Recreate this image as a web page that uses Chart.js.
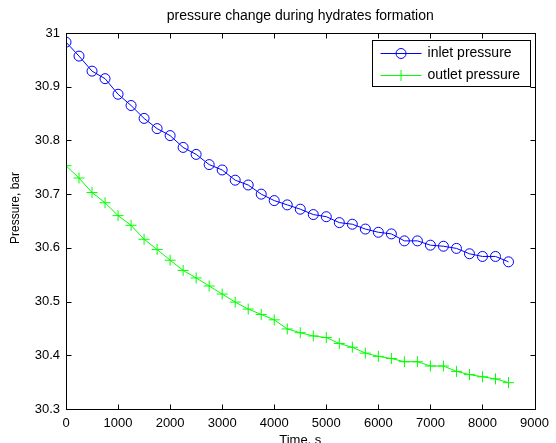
<!DOCTYPE html>
<html>
<head>
<meta charset="utf-8">
<script src="https://cdn.jsdelivr.net/npm/chart.js@4/dist/chart.umd.min.js"></script>
<style>
  html, body { margin: 0; padding: 0; background: #fff; }
  #myChart { display: block; }
</style>
</head>
<body>
<canvas id="myChart" width="556" height="443"></canvas>
<script>
// time axis (s) and readings (bar)
const times = [0, 250, 500, 750, 1000, 1250, 1500, 1750, 2000, 2250, 2500, 2750, 3000, 3250, 3500, 3750,
    4000, 4250, 4500, 4750, 5000, 5250, 5500, 5750, 6000, 6250, 6500, 6750, 7000, 7250, 7500, 7750,
    8000, 8250, 8500];
const inletPressure = [30.983, 30.957, 30.929, 30.915, 30.886, 30.865, 30.841, 30.822, 30.809, 30.787,
    30.774, 30.755, 30.745, 30.726, 30.717, 30.700, 30.688, 30.680, 30.672, 30.662, 30.658, 30.647,
    30.644, 30.635, 30.629, 30.626, 30.613, 30.613, 30.605, 30.603, 30.599, 30.589, 30.584, 30.584, 30.574];
const outletPressure = [30.753, 30.730, 30.703, 30.684, 30.660, 30.642, 30.616, 30.597, 30.577, 30.558,
    30.544, 30.529, 30.514, 30.499, 30.486, 30.476, 30.466, 30.449, 30.442, 30.436, 30.433, 30.422,
    30.415, 30.404, 30.398, 30.394, 30.388, 30.388, 30.380, 30.380, 30.370, 30.364, 30.360, 30.356, 30.349];

const seriesNames = ['inlet pressure', 'outlet pressure'];
const xTickRange = [0, 9000, 1000];
const yTickRange = [30.3, 31, 0.1];

const FONT = '"Liberation Sans", Arial, Helvetica, sans-serif';

// box, inward ticks, axis labels and legend like a matlab figure
const matlabFrame = {
    id: 'matlabFrame',
    beforeDraw(chart) {
        const ctx = chart.ctx;
        ctx.save();
        ctx.fillStyle = '#fff';
        ctx.fillRect(0, 0, chart.width, chart.height);
        ctx.restore();
    },
    afterDraw(chart) {
        const { ctx, chartArea: a, scales: { x, y } } = chart;
        const L = Math.round(a.left) + 0.5, R = Math.round(a.right) + 0.5;
        const T = Math.round(a.top) + 0.5, B = Math.round(a.bottom) + 0.5;
        const tl = 5;
        ctx.save();
        ctx.strokeStyle = '#000';
        ctx.lineWidth = 1;
        ctx.strokeRect(L, T, R - L, B - T);
        ctx.beginPath();
        x.ticks.forEach(t => {
            const px = Math.round(x.getPixelForValue(t.value)) + 0.5;
            ctx.moveTo(px, B); ctx.lineTo(px, B - tl);
            ctx.moveTo(px, T); ctx.lineTo(px, T + tl);
        });
        y.ticks.forEach(t => {
            const py = Math.round(y.getPixelForValue(t.value)) + 0.5;
            ctx.moveTo(L, py); ctx.lineTo(L + tl, py);
            ctx.moveTo(R, py); ctx.lineTo(R - tl, py);
        });
        ctx.stroke();

        // axis titles
        ctx.fillStyle = '#000';
        ctx.font = '13px ' + FONT;
        ctx.textAlign = 'center';
        ctx.textBaseline = 'top';
        ctx.fillText('Time, s', (a.left + a.right) / 2, 434);
        ctx.save();
        ctx.translate(16, 208);
        ctx.rotate(-Math.PI / 2);
        ctx.font = '12px ' + FONT;
        ctx.textBaseline = 'middle';
        ctx.fillText('Pressure, bar', 0, 0);
        ctx.restore();

        // legend
        const bx = a.right - 163, by = a.top + 7, bw = 158, bh = 46;
        ctx.fillStyle = '#fff';
        ctx.fillRect(bx, by, bw, bh);
        ctx.strokeRect(Math.round(bx) + 0.5, Math.round(by) + 0.5, bw, bh);
        chart.data.datasets.forEach((ds, i) => {
            const ly = Math.round(by + 13 + i * 21.5) + 0.5;
            const x0 = bx + 9, x1 = bx + 50, mx = (x0 + x1) / 2;
            ctx.strokeStyle = ds.borderColor;
            ctx.lineWidth = 1;
            ctx.beginPath();
            ctx.moveTo(x0, ly); ctx.lineTo(x1, ly);
            ctx.stroke();
            ctx.beginPath();
            if (ds.pointStyle === 'circle') {
                ctx.arc(mx, ly, ds.pointRadius, 0, Math.PI * 2);
            } else {
                ctx.moveTo(mx, ly - ds.pointRadius); ctx.lineTo(mx, ly + ds.pointRadius);
                ctx.moveTo(mx - ds.pointRadius, ly); ctx.lineTo(mx + ds.pointRadius, ly);
            }
            ctx.stroke();
            ctx.fillStyle = '#000';
            ctx.font = '14px ' + FONT;
            ctx.textAlign = 'left';
            ctx.textBaseline = 'middle';
            ctx.fillText(ds.label, bx + 56, ly);
        });
        ctx.restore();
    }
};

function drawChart() {
    const ctx = document.getElementById('myChart').getContext('2d');

    const inletData = times.map((t, i) => ({ x: t, y: inletPressure[i] }));
    const outletData = times.map((t, i) => ({ x: t, y: outletPressure[i] }));

    new Chart(ctx, {
        type: 'line',
        data: {
            datasets: [{
                label: seriesNames[0],
                data: inletData,
                borderColor: '#0000ff',
                backgroundColor: 'rgba(0,0,0,0)',
                borderWidth: 1,
                pointStyle: 'circle',
                pointRadius: 5,
                pointBorderWidth: 1,
                pointBackgroundColor: 'rgba(0,0,0,0)',
                pointBorderColor: '#0000ff',
                tension: 0
            }, {
                label: seriesNames[1],
                data: outletData,
                borderColor: '#00ff00',
                backgroundColor: 'rgba(0,0,0,0)',
                borderWidth: 1,
                pointStyle: 'cross',
                pointRadius: 5.5,
                pointBorderWidth: 1,
                pointBorderColor: '#00ff00',
                tension: 0
            }]
        },
        options: {
            responsive: false,
            animation: false,
            events: [],
            layout: { padding: { left: 0, right: 16, top: 0, bottom: 0 } },
            plugins: {
                legend: { display: false },
                tooltip: { enabled: false },
                title: {
                    display: true,
                    text: 'pressure change during hydrates formation',
                    fullSize: false,
                    color: '#000',
                    font: { family: FONT, size: 14, weight: 'normal' },
                    padding: { top: 8, bottom: 8.2 }
                }
            },
            scales: {
                x: {
                    type: 'linear',
                    min: xTickRange[0],
                    max: xTickRange[1],
                    grid: { display: false, drawTicks: false },
                    border: { display: false },
                    afterFit: s => { s.height = 34; },
                    ticks: {
                        stepSize: xTickRange[2],
                        padding: 7,
                        color: '#000',
                        maxRotation: 0,
                        font: { family: FONT, size: 13 },
                        callback: v => String(v)
                    }
                },
                y: {
                    min: yTickRange[0],
                    max: yTickRange[1],
                    grid: { display: false, drawTicks: false },
                    border: { display: false },
                    afterFit: s => { s.width = 66; },
                    ticks: {
                        stepSize: yTickRange[2],
                        padding: 6,
                        color: '#000',
                        font: { family: FONT, size: 13 },
                        callback: v => String(Number(v.toFixed(1)))
                    }
                }
            }
        },
        plugins: [matlabFrame]
    });
}

document.addEventListener('DOMContentLoaded', () => {
    drawChart();
});
</script>
</body>
</html>
